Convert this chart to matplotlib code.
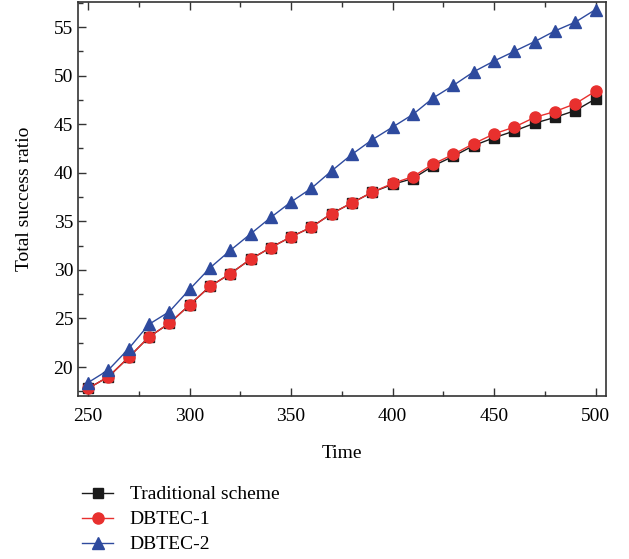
import matplotlib
matplotlib.use('Agg')
import matplotlib.pyplot as plt
from matplotlib.ticker import MultipleLocator

plt.rcParams['font.family'] = ['Liberation Serif', 'DejaVu Serif']

time = [250, 260, 270, 280, 290, 300, 310, 320, 330, 340, 350, 360, 370,
        380, 390, 400, 410, 420, 430, 440, 450, 460, 470, 480, 490, 500]

traditional = [17.8, 19.0, 21.0, 23.1, 24.5, 26.4, 28.3, 29.6, 31.1, 32.3, 33.4, 34.4, 35.8,
               36.9, 38.0, 38.8, 39.4, 40.7, 41.7, 42.8, 43.6, 44.3, 45.1, 45.7, 46.4, 47.6]
dbtec1 = [17.8, 19.0, 21.0, 23.1, 24.5, 26.4, 28.3, 29.6, 31.1, 32.3, 33.4, 34.4, 35.8,
          36.9, 38.0, 38.9, 39.6, 40.9, 41.9, 43.0, 44.0, 44.7, 45.7, 46.3, 47.1, 48.4]
dbtec2 = [18.4, 19.7, 21.9, 24.4, 25.7, 28.0, 30.2, 32.0, 33.7, 35.4, 37.0, 38.4, 40.2,
          41.9, 43.4, 44.7, 46.0, 47.7, 49.0, 50.4, 51.5, 52.5, 53.5, 54.6, 55.5, 56.8]

fig = plt.figure(figsize=(6.29, 5.59), dpi=100)
ax = fig.add_axes([0.124, 0.292, 0.839, 0.704])

ax.plot(time, traditional, color='#1a1a1a', marker='s', markersize=6.5, linewidth=1.0,
        label='Traditional scheme')
ax.plot(time, dbtec1, color='#e8302e', marker='o', markersize=8, linewidth=1.0,
        label='DBTEC-1')
ax.plot(time, dbtec2, color='#2e4a9e', marker='^', markersize=8.5, linewidth=1.0,
        label='DBTEC-2')

ax.set_xlim(245, 505)
ax.set_ylim(17.04, 57.55)
ax.xaxis.set_major_locator(MultipleLocator(50))
ax.xaxis.set_minor_locator(MultipleLocator(25))
ax.yaxis.set_major_locator(MultipleLocator(5))
ax.yaxis.set_minor_locator(MultipleLocator(2.5))
ax.tick_params(which='both', direction='in', top=True, right=False, labelsize=14,
               color='#333333', width=1.0)
ax.tick_params(which='major', length=6)
ax.tick_params(which='minor', length=3.5)
ax.tick_params(axis='x', pad=9)
for s in ax.spines.values():
    s.set_linewidth(1.2)
    s.set_color('#333333')

ax.set_xlabel('Time', fontsize=14, labelpad=14)
ax.set_ylabel('Total success ratio', fontsize=14, labelpad=15)

fig.legend(loc='upper left', bbox_to_anchor=(0.118, 0.145), frameon=False, fontsize=14,
           handlelength=1.6, handletextpad=0.85, labelspacing=0.38, borderaxespad=0)

fig.savefig('out.png', dpi=100)
